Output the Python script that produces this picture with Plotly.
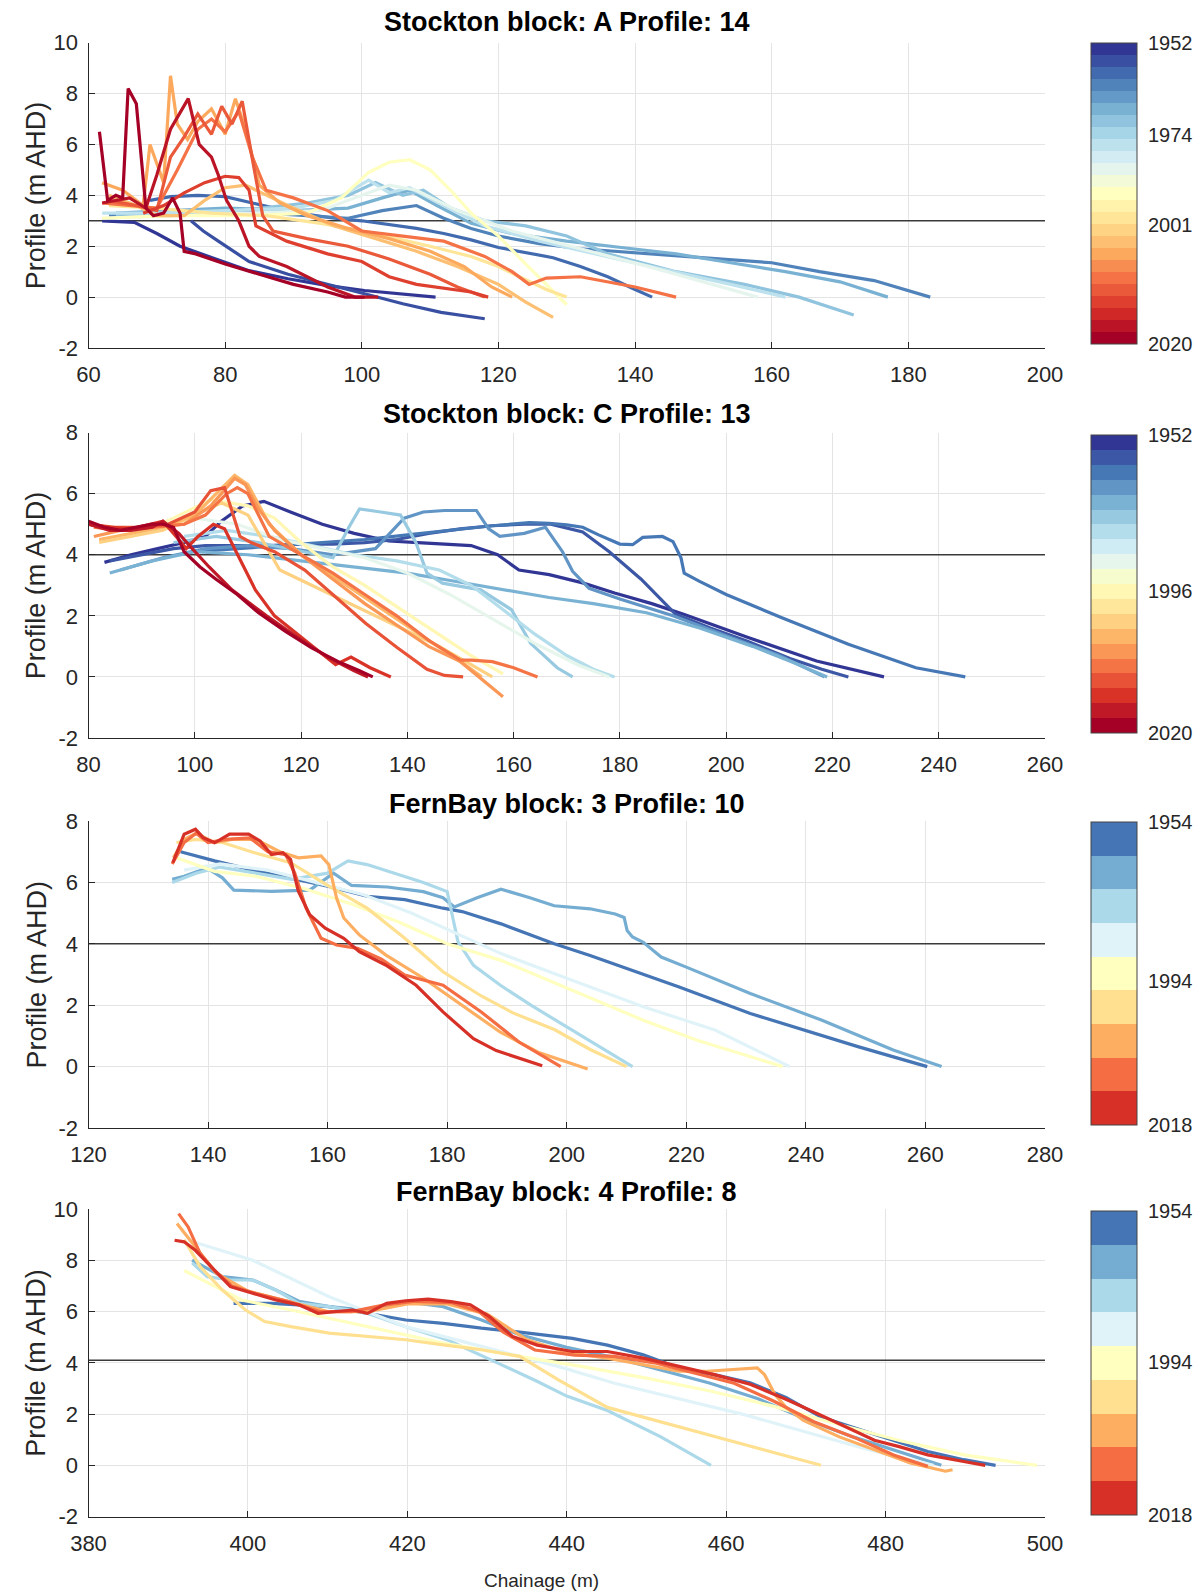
import plotly.graph_objects as go
from plotly.colors import sample_colorscale

# the page puts the figure 8 px in from the top-left corner of the window
OFF = 8
W, H = 1201 - OFF, 1596 - OFF

# ---------------- Panel 1: Stockton block A, profile 14 ----------------
p1_title = "Stockton block: A Profile: 14"
p1_years = [1952, 1956, 1958, 1961, 1966, 1970, 1974, 1980, 1986, 1991,
            1996, 2000, 2005, 2008, 2011, 2016, 2020]
p1_x = [
    [62, 66.7, 70, 73.4, 77.9, 83.5, 89.2, 94.8, 100.4, 106, 110.8],
    [75, 76.8, 79, 83.5, 89.2, 94.8, 100.4, 106, 111.6, 118],
    [69, 72, 76, 80, 84, 88, 92, 96, 100, 104, 108, 112, 116, 120, 124, 128, 132, 136, 140, 142.5],
    [63, 68, 74, 80, 86, 92, 98, 103, 108, 112, 116, 120, 126, 132, 140, 148, 156, 160, 167, 175, 183.2],
    [64, 72, 80, 90, 98, 103, 107, 111, 116, 122, 130, 138, 146, 154, 162, 170, 177],
    [64, 72, 82, 92, 98, 102, 106, 109, 113, 118, 124, 130, 136, 146, 156, 164, 172],
    [62, 70, 80, 90, 96, 101, 104, 107, 112, 118, 126, 134, 144, 154, 162],
    [62, 72, 84, 94, 100, 104, 108, 114, 122, 132, 142, 150, 158],
    [62, 72, 84, 92, 97, 101, 104, 107, 110, 113, 116, 120, 124, 127, 130],
    [63, 70, 78, 86, 94, 102, 110, 116, 120, 124, 127, 130],
    [63, 67, 70, 74, 77, 80, 83, 86, 90, 96, 102, 108, 114, 120, 124, 128],
    [62, 65, 68, 69, 71, 72, 73, 74.5, 76, 78, 80, 81.5, 83, 85, 88, 92, 98, 104, 110, 115, 119, 122],
    [62, 66, 70, 73, 76, 78, 80, 82, 84, 86, 90, 95, 100, 106, 112, 118, 122, 124.5, 127, 132, 140, 146],
    [63, 67, 70, 72, 74, 76, 78, 79.5, 81, 82.5, 84, 85.5, 87, 92, 98, 104, 110, 114, 118],
    [68, 71, 74, 77, 80, 82, 83.5, 84.5, 89, 95, 100, 104, 108, 112, 116, 118.5],
    [62, 64, 66, 68.4, 70, 72, 74.6, 76.2, 78, 79, 80.2, 82, 83.5, 85, 89, 95, 99, 102.4],
    [61.6, 62.8, 64, 65, 65.8, 67, 68.4, 69.5, 71, 72.3, 73.4, 74, 75.7, 80, 85, 90, 95, 97.6, 100.4],
]
p1_y = [
    [3.0, 2.94, 2.5, 2.0, 1.57, 1.04, 0.72, 0.46, 0.26, 0.13, 0.0],
    [3.0, 2.6, 2.2, 1.4, 0.9, 0.5, 0.13, -0.26, -0.6, -0.85],
    [3.8, 3.95, 4.0, 3.95, 3.7, 3.45, 3.25, 3.1, 3.0, 2.85, 2.7, 2.5, 2.25, 1.95, 1.75, 1.55, 1.2, 0.8, 0.3, 0.0],
    [3.2, 3.3, 3.3, 3.4, 3.3, 3.2, 3.1, 3.4, 3.6, 3.1, 2.7, 2.4, 2.1, 1.9, 1.75, 1.6, 1.45, 1.35, 1.0, 0.65, 0.0],
    [3.3, 3.4, 3.5, 3.4, 3.5, 3.9, 4.2, 3.6, 2.9, 2.5, 2.2, 1.95, 1.7, 1.35, 1.0, 0.6, 0.0],
    [3.2, 3.2, 3.4, 3.7, 4.0, 4.5, 4.0, 4.2, 3.5, 3.0, 2.8, 2.4, 1.7, 1.0, 0.5, 0.0, -0.7],
    [3.3, 3.3, 3.4, 3.5, 3.8, 4.6, 4.1, 4.3, 3.6, 2.8, 2.2, 1.7, 1.1, 0.5, 0.0],
    [3.1, 3.2, 3.3, 3.4, 4.0, 4.4, 4.2, 3.4, 2.6, 1.9, 1.2, 0.6, 0.0],
    [3.1, 3.2, 3.2, 3.3, 3.9, 4.9, 5.3, 5.4, 5.0, 4.2, 3.3, 2.4, 1.3, 0.5, -0.3],
    [3.6, 3.5, 3.3, 3.2, 2.9, 2.5, 2.0, 1.6, 1.2, 0.7, 0.3, 0.0],
    [4.0, 3.6, 3.2, 3.2, 3.8, 4.3, 4.4, 4.0, 3.5, 2.8, 2.3, 1.8, 1.2, 0.5, -0.2, -0.8],
    [4.5, 4.2, 3.6, 6.0, 4.5, 8.7, 6.8, 6.2, 6.9, 7.4, 6.4, 7.8, 6.6, 4.4, 3.7, 3.2, 2.7, 2.3, 1.8, 1.2, 0.4, 0.0],
    [3.7, 3.6, 3.5, 5.0, 6.6, 7.0, 6.5, 7.3, 5.5, 4.2, 3.9, 3.4, 2.6, 2.4, 2.2, 1.6, 1.0, 0.5, 0.75, 0.8, 0.4, 0.0],
    [3.8, 3.6, 3.4, 5.5, 6.3, 7.2, 6.4, 7.5, 6.8, 7.7, 5.4, 3.2, 2.6, 2.3, 2.0, 1.5, 0.9, 0.4, 0.0],
    [3.3, 3.6, 4.1, 4.5, 4.75, 4.7, 4.2, 2.8, 2.2, 1.7, 1.4, 0.8, 0.5, 0.35, 0.2, 0.0],
    [3.7, 3.8, 3.9, 3.5, 4.8, 6.6, 7.8, 6.0, 5.5, 4.8, 3.8, 3.0, 2.0, 1.6, 1.2, 0.4, 0.0, 0.0],
    [6.5, 3.8, 4.0, 3.9, 8.2, 7.6, 3.5, 3.2, 3.3, 3.9, 3.3, 1.8, 1.7, 1.3, 0.9, 0.5, 0.2, 0.0, 0.0],
]
p1_level = 3.0
p1_level_x = [60, 201.2]
p1_cbar_labels = ["1952", "1974", "2001", "2020"]

# ---------------- Panel 2: Stockton block C, profile 13 ----------------
p2_title = "Stockton block: C Profile: 13"
p2_years = [1952, 1957, 1961, 1964, 1968, 1971, 1975, 1981, 1988, 1994,
            1998, 2001, 2005, 2008, 2012, 2016, 2020]
p2_x = [
    [83, 88, 93, 98, 102, 105, 109, 113, 118, 124, 130, 136.5, 142, 147, 152, 157, 161, 166.7, 173, 179, 186, 192, 204, 217, 229.7],
    [84, 90, 96, 102, 108, 114, 120, 126, 132, 138, 144, 150, 156, 162, 167, 173, 178, 184, 190.5, 197, 204, 212, 218, 223],
    [100, 108, 116, 124, 132, 140, 148, 156, 163, 166.7, 170, 173, 176, 180, 182.4, 184.3, 188, 190, 191.5, 192.1, 195, 200, 210.6, 223, 235.7, 245],
    [86, 94, 102, 110, 118, 126, 134, 139.4, 143, 147, 153, 155.3, 157.4, 162, 166, 169.2, 171.1, 174.2, 180, 190, 200, 210, 218.5],
    [84, 92, 100, 110, 120, 130, 140, 150, 160, 166.7, 175, 185, 195, 205, 213, 219],
    [96, 104, 112, 120, 126, 129, 131, 135, 138.7, 141.6, 143.7, 146.6, 153.8, 159.6, 163.2, 168.2, 171.1],
    [98, 106, 114, 122, 130, 138, 146, 152, 158, 164, 170, 175, 179],
    [92, 100, 108, 116, 124, 132, 140, 148, 156, 164, 172, 178],
    [88, 96, 103, 110, 115, 120, 126, 132, 138, 145, 152, 158],
    [82, 88, 94, 100, 105, 110, 116, 122, 128, 134, 140, 146, 152, 156],
    [82, 88, 94, 100, 104, 107.5, 110, 114, 120, 126, 132, 138, 144, 150, 154],
    [81, 86, 92, 98, 103, 107.5, 109.5, 112, 115, 120, 126, 132, 138, 144, 150, 155, 158],
    [81, 86, 92, 98, 102, 106, 108, 110, 114, 120, 126, 132, 138, 144, 150, 152, 156, 160, 164.5],
    [80, 85, 90, 95, 100, 103, 105.6, 108.5, 110.6, 115, 120.7, 126.5, 132.2, 138, 143.7, 147, 150.5],
    [80, 84, 88, 92, 94, 96, 98.4, 100.6, 103.5, 105.6, 108.5, 111.4, 115, 121.4, 126.5, 129.4, 133, 136.9],
    [80, 84, 88, 92, 94, 97, 99, 101.3, 102.7, 107, 113.5, 119.3, 125, 130, 132.6],
    [80, 83, 86, 89, 92, 94, 96, 98, 101, 104, 108, 112, 117, 122, 127, 131, 133.5],
]
p2_y = [
    [3.75, 4.0, 4.2, 4.4, 4.6, 5.1, 5.6, 5.75, 5.4, 5.0, 4.7, 4.45, 4.4, 4.35, 4.3, 4.0, 3.5, 3.35, 3.08, 2.75, 2.4, 2.05, 1.3, 0.52, 0.0],
    [3.8, 4.0, 4.2, 4.3, 4.3, 4.3, 4.35, 4.35, 4.4, 4.5, 4.7, 4.85, 4.95, 5.0, 5.0, 4.75, 4.1, 3.2, 2.05, 1.6, 1.17, 0.6, 0.25, 0.0],
    [4.1, 4.2, 4.3, 4.4, 4.5, 4.65, 4.8, 4.95, 5.05, 5.03, 4.98, 4.9, 4.65, 4.35, 4.33, 4.57, 4.6, 4.43, 3.9, 3.4, 3.13, 2.7, 1.93, 1.07, 0.3, 0.0],
    [3.5, 3.9, 4.2, 4.3, 4.2, 4.0, 4.2, 5.2, 5.4, 5.45, 5.45, 4.85, 4.6, 4.7, 4.9, 4.1, 3.46, 2.9, 2.55, 2.0, 1.35, 0.7, 0.0],
    [3.4, 3.8, 4.1, 4.0, 3.8, 3.6, 3.4, 3.1, 2.8, 2.6, 2.4, 2.1, 1.6, 1.0, 0.45, 0.0],
    [4.4, 4.6, 4.4, 4.1, 3.9, 4.9, 5.5, 5.4, 5.3, 4.4, 3.4, 3.07, 2.85, 2.2, 1.1, 0.3, 0.0],
    [4.6, 4.8, 4.6, 4.3, 4.0, 3.8, 3.5, 3.0, 2.2, 1.4, 0.7, 0.25, 0.0],
    [4.8, 5.2, 5.0, 4.5, 4.2, 3.9, 3.4, 2.7, 1.9, 1.1, 0.4, 0.0],
    [4.6, 5.2, 5.8, 5.6, 5.2, 4.4, 3.6, 3.0, 2.3, 1.5, 0.7, 0.1],
    [4.4, 4.6, 4.8, 5.3, 5.7, 5.3, 3.5, 3.0, 2.5, 2.0, 1.5, 1.0, 0.4, 0.0],
    [4.5, 4.7, 4.9, 5.3, 6.0, 6.6, 6.3, 5.0, 4.0, 3.3, 2.6, 1.9, 1.2, 0.5, 0.0],
    [4.6, 4.8, 4.9, 5.0, 5.6, 6.5, 6.3, 5.5, 4.8, 4.0, 3.2, 2.4, 1.7, 1.0, 0.5, -0.2, -0.65],
    [4.9, 4.8, 4.9, 5.0, 5.3, 6.0, 6.2, 6.0, 4.6, 4.0, 3.4, 2.7, 2.0, 1.2, 0.55, 0.55, 0.5, 0.3, 0.0],
    [5.0, 4.9, 4.9, 5.0, 5.4, 6.1, 6.2, 4.6, 4.4, 4.1, 3.5, 2.6, 1.75, 0.97, 0.25, 0.05, 0.0],
    [5.0, 4.9, 4.85, 5.0, 5.1, 4.7, 4.2, 4.6, 5.0, 4.85, 3.85, 2.85, 2.0, 1.1, 0.4, 0.65, 0.3, 0.0],
    [5.0, 4.8, 4.8, 4.9, 5.1, 4.7, 4.3, 3.85, 3.6, 2.85, 2.0, 1.3, 0.65, 0.2, 0.0],
    [5.1, 4.9, 4.8, 4.9, 5.0, 5.0, 4.9, 4.1, 3.6, 3.2, 2.7, 2.1, 1.5, 0.95, 0.5, 0.2, 0.0],
]
p2_level = 4.0
p2_level_x = [80, 260]
p2_cbar_labels = ["1952", "1996", "2020"]

# ---------------- Panel 3: FernBay block 3, profile 10 ----------------
p3_title = "FernBay block: 3 Profile: 10"
p3_years = [1954, 1962, 1970, 1978, 1986, 1993, 2001, 2008, 2015]
p3_x = [
    [135.4, 141.1, 147.5, 153.8, 160.2, 166.6, 172.9, 179.3, 182.5, 189, 197.9, 203.9, 218.8, 230.7, 239.7, 248.7, 260.3],
    [134, 136, 139.8, 142.4, 144.3, 150.6, 157, 161, 164, 170, 176, 179.3, 181.2, 185, 189, 193.7, 197.9, 203.9, 208.1, 209.6, 210.1, 211, 212.8, 215.8, 220, 230.7, 242.7, 254.6, 262.7],
    [134, 138, 142, 148, 154, 160, 163.4, 166.6, 171.7, 176, 180, 181.8, 184.4, 188.9, 194, 200, 206, 211],
    [136, 142, 150, 158, 166, 174, 182, 189, 200.9, 212.8, 224.8, 237.3],
    [134.7, 141.1, 148, 156, 164, 172, 180, 189, 200.9, 212.8, 221.8, 236.1],
    [134.7, 138, 142.4, 147.5, 153.8, 160.2, 166.6, 172.9, 179.3, 185.7, 191, 198, 204, 210],
    [134.2, 136, 138, 141, 144, 148, 152, 155.1, 158.9, 160.2, 161.5, 162.7, 165.3, 169.7, 176.1, 182.5, 188.9, 195.2, 203.5],
    [134, 136, 138, 140, 143, 147, 150, 153, 154.5, 156.4, 158.9, 161.5, 165, 169, 172.9, 179.3, 185.7, 192, 199],
    [134.1, 136, 137.9, 139.2, 141.1, 143.6, 146.8, 148.7, 150.6, 152.5, 153.8, 155.1, 157, 159.6, 162.7, 165.3, 169.7, 174.8, 179.3, 184.4, 188.2, 190.8, 195.9],
]
p3_y = [
    [7.0, 6.7, 6.4, 6.15, 5.87, 5.55, 5.44, 5.16, 5.05, 4.65, 4.0, 3.62, 2.59, 1.73, 1.19, 0.65, 0.0],
    [6.1, 6.2, 6.47, 6.15, 5.75, 5.71, 5.75, 6.3, 5.9, 5.85, 5.7, 5.5, 5.2, 5.5, 5.78, 5.51, 5.24, 5.14, 4.97, 4.86, 4.43, 4.22, 4.05, 3.57, 3.24, 2.38, 1.51, 0.54, 0.0],
    [6.0, 6.3, 6.5, 6.3, 6.1, 6.3, 6.7, 6.58, 6.26, 6.0, 5.7, 4.07, 3.3, 2.65, 2.0, 1.3, 0.6, 0.0],
    [6.4, 6.6, 6.4, 6.0, 5.6, 5.0, 4.3, 3.68, 2.81, 1.95, 1.19, 0.0],
    [6.8, 6.36, 6.2, 5.8, 5.3, 4.7, 4.0, 3.46, 2.49, 1.51, 0.86, 0.0],
    [7.3, 7.4, 7.3, 6.98, 6.64, 5.88, 5.16, 4.18, 3.09, 2.3, 1.75, 1.2, 0.55, 0.0],
    [6.8, 7.4, 7.6, 7.3, 7.4, 7.4, 7.0, 6.8, 6.86, 6.58, 5.49, 4.84, 4.29, 3.64, 2.87, 2.0, 1.12, 0.47, -0.08],
    [6.6, 7.3, 7.6, 7.3, 7.4, 7.45, 7.0, 6.9, 6.3, 5.16, 4.18, 3.96, 3.85, 3.5, 2.98, 2.65, 1.78, 0.8, 0.0],
    [6.64, 7.57, 7.73, 7.46, 7.29, 7.57, 7.57, 7.35, 6.91, 6.97, 6.75, 5.71, 4.95, 4.51, 4.18, 3.74, 3.31, 2.65, 1.78, 0.91, 0.52, 0.36, 0.03],
]
p3_level = 4.0
p3_level_x = [120, 280]
p3_cbar_labels = ["1954", "1994", "2018"]

# ---------------- Panel 4: FernBay block 4, profile 8 ----------------
p4_title = "FernBay block: 4 Profile: 8"
p4_years = [1954, 1963, 1972, 1980, 1988, 1994, 2001, 2010, 2018]
p4_x = [
    [398.2, 403, 410.2, 415, 419.8, 424.5, 429.3, 434.1, 440.7, 445.1, 449.6, 454.1, 458.5, 463, 467.5, 471.9, 476.4, 480.8, 485.3, 489.8, 493.8],
    [393, 396.8, 400.6, 403.5, 406.4, 410.2, 415, 419.8, 424.5, 429.3, 434, 440, 446, 452, 458, 464, 470, 476, 482, 487],
    [393, 394.9, 397.8, 400.6, 403.5, 406.4, 410.2, 415, 419.8, 425, 431.7, 436.2, 440, 445.1, 451.8, 458.1],
    [392.5, 400.6, 410.2, 419.8, 429.3, 438.9, 446, 454, 462, 470, 478, 486],
    [392, 399.2, 405.4, 415, 424.5, 434.1, 442, 450, 458, 466, 474, 482, 490, 499],
    [392, 394, 396.8, 399.7, 402.1, 405.4, 410.2, 415, 419.8, 424.5, 429.3, 434.1, 438.9, 445.1, 454.1, 463, 471.9],
    [391.1, 393, 396, 400, 405, 410, 415, 420, 425, 430, 435, 440, 445.1, 449.6, 454.1, 457.6, 460.8, 463.9, 464.8, 466.1, 467.5, 469.7, 474.2, 478.6, 483.1, 487.5, 488.4],
    [391.3, 392.5, 394, 395.8, 398, 401, 405, 409, 413, 417, 421, 425.5, 429, 432, 436, 441, 446, 451, 456, 461, 466, 471, 476, 481, 485.3],
    [390.8, 392, 393.4, 395.8, 397.8, 400.6, 403.5, 406.4, 408.8, 411.1, 413.1, 415, 417.4, 419.8, 422.6, 425.5, 427.9, 430.3, 433.2, 436.3, 440.7, 445.1, 449.6, 454.1, 458.5, 463, 467.5, 470.6, 474.2, 478.6, 481.7, 485.3, 489.8, 492.5],
]
p4_y = [
    [6.32, 6.32, 6.19, 5.93, 5.67, 5.54, 5.35, 5.2, 4.95, 4.69, 4.31, 3.8, 3.54, 3.22, 2.65, 1.88, 1.43, 0.98, 0.54, 0.22, 0.0],
    [8.0, 7.36, 7.23, 6.84, 6.4, 6.19, 6.05, 6.39, 6.19, 5.67, 5.1, 4.6, 4.2, 3.7, 3.2, 2.6, 1.8, 1.1, 0.5, 0.0],
    [7.9, 7.36, 7.23, 7.23, 6.84, 6.32, 6.19, 5.93, 5.41, 4.9, 3.94, 3.29, 2.7, 2.14, 1.11, 0.0],
    [8.78, 8.0, 6.58, 5.41, 4.64, 3.86, 3.2, 2.6, 2.0, 1.3, 0.6, 0.0],
    [7.6, 6.45, 6.06, 5.41, 4.77, 4.25, 3.85, 3.4, 2.9, 2.3, 1.6, 0.95, 0.4, 0.0],
    [8.8, 7.75, 6.84, 6.06, 5.61, 5.41, 5.16, 5.03, 4.9, 4.7, 4.51, 4.25, 3.34, 2.26, 1.5, 0.73, 0.0],
    [9.43, 8.7, 7.5, 6.8, 6.4, 6.0, 6.0, 6.3, 6.3, 5.9, 4.9, 4.4, 4.18, 3.93, 3.67, 3.67, 3.73, 3.8, 3.54, 2.77, 2.26, 1.75, 1.11, 0.6, 0.09, -0.23, -0.17],
    [9.82, 9.3, 8.27, 7.6, 7.0, 6.7, 6.4, 6.0, 6.0, 6.25, 6.4, 6.35, 6.0, 5.2, 4.5, 4.3, 4.25, 4.0, 3.6, 3.2, 2.5, 1.7, 1.1, 0.4, -0.04],
    [8.78, 8.72, 8.39, 7.6, 6.97, 6.71, 6.45, 6.26, 5.93, 6.0, 6.06, 5.93, 6.32, 6.42, 6.48, 6.39, 6.26, 5.8, 5.03, 4.69, 4.44, 4.44, 4.18, 3.86, 3.54, 3.16, 2.58, 2.14, 1.62, 0.98, 0.73, 0.41, 0.15, 0.0],
]
p4_level = 4.1
p4_level_x = [380, 501]
p4_cbar_labels = ["1954", "1994", "2018"]

# ---------------- styling / placement ----------------
BREWER9 = ['#d73027', '#f46d43', '#fdae61', '#fee090', '#ffffbf',
           '#e0f3f8', '#abd9e9', '#74add1', '#4575b4']


def band_colors(n):
    if n == 9:
        return BREWER9
    return sample_colorscale('RdYlBu', [i / (n - 1) for i in range(n)])


def fx(px):
    return (px - OFF) / W


def fy(py):
    return 1 - (py - OFF) / H


# pixel boxes measured on the 1201x1596 window
panels = [
    dict(title=p1_title, years=p1_years, xs=p1_x, ys=p1_y, level=p1_level, lx=p1_level_x,
         labels=p1_cbar_labels, tickpos=[0, 0.306, 0.605, 1.0], nb=25,
         xr=[60, 200], yr=[-2, 10], top=42.7, bot=348.0, ttl=22.4, cb=(42.7, 344.0)),
    dict(title=p2_title, years=p2_years, xs=p2_x, ys=p2_y, level=p2_level, lx=p2_level_x,
         labels=p2_cbar_labels, tickpos=[0, 0.525, 1.0], nb=20,
         xr=[80, 260], yr=[-2, 8], top=432.6, bot=738.0, ttl=414.0, cb=(434.6, 733.0)),
    dict(title=p3_title, years=p3_years, xs=p3_x, ys=p3_y, level=p3_level, lx=p3_level_x,
         labels=p3_cbar_labels, tickpos=[0, 0.525, 1.0], nb=9,
         xr=[120, 280], yr=[-2, 8], top=821.0, bot=1128.0, ttl=804.0, cb=(822.0, 1125.0)),
    dict(title=p4_title, years=p4_years, xs=p4_x, ys=p4_y, level=p4_level, lx=p4_level_x,
         labels=p4_cbar_labels, tickpos=[0, 0.496, 1.0], nb=9,
         xr=[380, 500], yr=[-2, 10], top=1209.0, bot=1516.6, ttl=1192.0, cb=(1211.0, 1514.5)),
]

FONT = "Liberation Sans, Arial, Helvetica, sans-serif"
TXT = "#262626"
X0, X1 = fx(88.5), fx(1045)

fig = go.Figure()
layout = dict(width=W, height=H, margin=dict(l=0, r=0, t=0, b=0, autoexpand=False),
              paper_bgcolor="white", plot_bgcolor="white", showlegend=False,
              font=dict(family=FONT, color=TXT), annotations=[])

for i, p in enumerate(panels, start=1):
    xa, ya = f"x{i}" if i > 1 else "x", f"y{i}" if i > 1 else "y"
    cols = band_colors(p["nb"])
    n = len(cols)
    lo = int(p["labels"][0]); hi = int(p["labels"][-1])

    # reference level
    fig.add_trace(go.Scatter(x=p["lx"], y=[p["level"], p["level"]], mode="lines",
                             line=dict(color="#3a3a3a", width=1.5), cliponaxis=False,
                             xaxis=xa, yaxis=ya, hoverinfo="skip"))
    for yr, xs, ys in zip(p["years"], p["xs"], p["ys"]):
        k = min(int((yr - lo) / (hi - lo) * n), n - 1)
        fig.add_trace(go.Scatter(x=xs, y=ys, mode="lines", name=str(yr),
                                 line=dict(color=cols[n - 1 - k], width=3.2),
                                 xaxis=xa, yaxis=ya))

    # discrete colour bar
    cs = []
    for j, c in enumerate(cols):
        cs += [[j / n, c], [(j + 1) / n, c]]
    cb_top, cb_bot = p["cb"]
    fig.add_trace(go.Scatter(
        x=[None], y=[None], mode="markers", xaxis=xa, yaxis=ya, hoverinfo="skip",
        marker=dict(color=[0.5], colorscale=cs, cmin=0, cmax=1, showscale=True,
                    colorbar=dict(x=fx(1091), xanchor="left", xpad=0, ypad=0,
                                  y=fy((cb_top + cb_bot) / 2), yanchor="middle",
                                  lenmode="pixels", len=cb_bot - cb_top,
                                  thicknessmode="pixels", thickness=46,
                                  outlinewidth=1, outlinecolor="#444",
                                  tickvals=[1 - f for f in p["tickpos"]],
                                  ticktext=p["labels"], ticks="outside", ticklen=7,
                                  tickcolor="rgba(0,0,0,0)", ticklabeloverflow="allow",
                                  tickfont=dict(size=20, color=TXT, family=FONT)))))

    ydom = [fy(p["bot"]), fy(p["top"])]
    yticks = list(range(p["yr"][0], p["yr"][1] + 1, 2))
    axis_common = dict(showgrid=True, gridcolor="#e4e4e4", gridwidth=1, zeroline=False,
                       showline=True, linecolor=TXT, linewidth=1, ticks="inside",
                       ticklen=6, tickcolor=TXT, mirror=False,
                       tickfont=dict(size=22, color=TXT, family=FONT))
    layout["xaxis" + ("" if i == 1 else str(i))] = dict(
        axis_common, domain=[X0, X1], range=p["xr"], dtick=20, anchor=ya,
        ticklabelstandoff=7)
    layout["yaxis" + ("" if i == 1 else str(i))] = dict(
        axis_common, domain=ydom, range=p["yr"], anchor=xa,
        tickvals=yticks, ticktext=[str(v) for v in yticks], ticklabelstandoff=5)

    layout["annotations"].append(dict(
        text=f"<b>{p['title']}</b>", xref="paper", yref="paper",
        x=(X0 + X1) / 2, y=fy(p["ttl"]), xanchor="center", yanchor="middle",
        showarrow=False, font=dict(size=27, color="#000", family=FONT)))
    layout["annotations"].append(dict(
        text="Profile (m AHD)", xref="paper", yref="paper", textangle=-90,
        x=fx(36), y=(ydom[0] + ydom[1]) / 2, xanchor="center", yanchor="middle",
        showarrow=False, font=dict(size=27, color=TXT, family=FONT)))

layout["annotations"].append(dict(
    text="Chainage (m)", xref="paper", yref="paper", x=fx(541.5),
    y=fy(1580), xanchor="center", yanchor="middle", showarrow=False,
    font=dict(size=19, color=TXT, family=FONT)))

fig.update_layout(**layout)
fig.write_html("out.html")
